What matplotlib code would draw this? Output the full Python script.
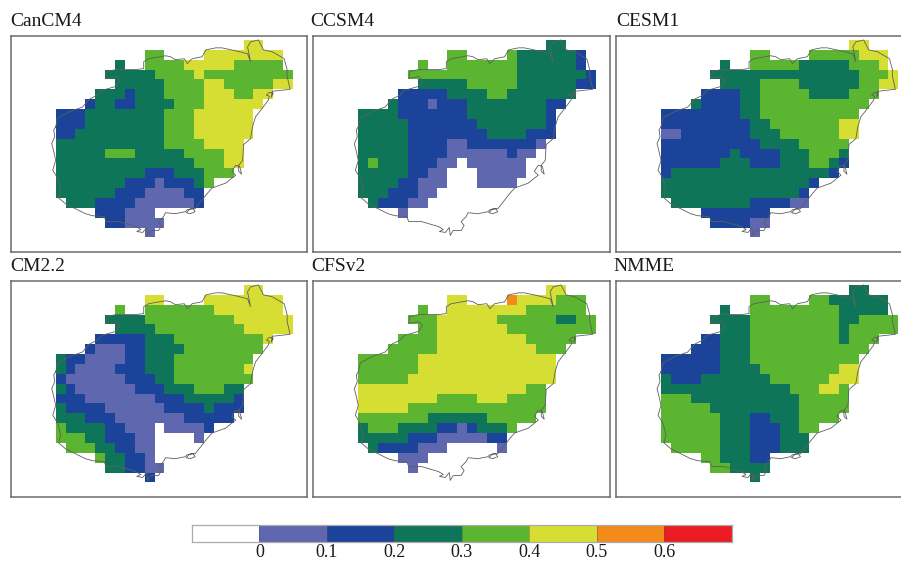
import numpy as np
import matplotlib
matplotlib.use("Agg")
import matplotlib.pyplot as plt
from matplotlib.colors import ListedColormap, BoundaryNorm

plt.rcParams['font.family'] = ['Liberation Serif', 'DejaVu Serif']

# ===========================
# DATA
# one string per grid row (north to south), one char per 0.1 deg column
# char = class: 0 -> 0-0.1, 1 -> 0.1-0.2 ... '.' -> nothing drawn
# ===========================
cancm4 = [
    "...................44...",
    ".........33....44444444.",
    "......2..33334444433333.",
    ".....2222233334333333333",
    "......222223333443333344",
    "....222122233334443344..",
    "...122112222333444444...",
    "11122222222333444444....",
    "11122222222333444444....",
    "11222222222333444444....",
    "2222222222233334444.....",
    "2222233322222333344.....",
    "2222222222222233344.....",
    "222222222111222333......",
    "2222222111011123........",
    "222222111000011.........",
    ".22211110000001.........",
    "....111000..............",
    ".....110000.............",
    ".........0..............",
]
ccsm4 = [
    "...................22...",
    ".........33....32222221.",
    "......3..33333332222221.",
    ".....3333333333322222221",
    "......222223333322222211",
    "....111112222332222222..",
    "...211101112222222211...",
    "22221111111222222221....",
    "22222111111122222221....",
    "22222111111112222111....",
    "2222211110011111110.....",
    "222221111000000100......",
    "2322211100.000000.......",
    "222221100...00000.......",
    "222211000...0000........",
    "22211100................",
    ".211100.................",
    "....0...................",
    "........................",
    "........................",
]
cesm1 = [
    "...................44...",
    ".........33....33333444.",
    "......2..33333222223334.",
    ".....2222222222222223334",
    "......222233332222223344",
    "....111122333332222333..",
    "...211112233333333333...",
    "11111111223333333333....",
    "11111111122333333344....",
    "00111111122233333344....",
    "1111111111222233333.....",
    "1111111211112223332.....",
    "1111112221112223321.....",
    "122222222222222221......",
    "2222222222222221........",
    "222222222222221.........",
    ".22222222111100.........",
    "....1111111.............",
    ".....111100.............",
    ".........0..............",
]
cm22 = [
    "...................44...",
    ".........44....44444444.",
    "......3..33333334444444.",
    ".....2222333333333444444",
    "......222233333333344444",
    "....111112223333333334..",
    "...100011222233333333...",
    "21100001122233333333....",
    "21000011122233333334....",
    "10000001112233333333....",
    "2100000011122233322.....",
    "1110000000111222221.....",
    "2111100000011112111.....",
    "222111000000011111......",
    "3222211000.00001........",
    "3332211100....0.........",
    ".333221100..............",
    "....322110..............",
    ".....221100.............",
    ".........1..............",
]
cfsv2 = [
    "...................44...",
    ".........44....54444333.",
    "......3..44444444333333.",
    ".....3334444443333332233",
    "......334444444333333333",
    "....333344444444433333..",
    "...333334444444444333...",
    "33333344444444444444....",
    "33333344444444444444....",
    "33333444444444444444....",
    "4444444444444444433.....",
    "4444444433334443333.....",
    "4444433333333333333.....",
    "333333322222233333......",
    "2333222211012223........",
    "222221110000011.........",
    ".21111000.....0.........",
    "....000.................",
    ".....0..................",
    "........................",
]
nmme = [
    "...................22...",
    ".........33....33222222.",
    "......2..33333333322222.",
    ".....2222333333333223333",
    "......222333333333233333",
    "....112223333333332333..",
    "...111222333333333333...",
    "11111122233333333333....",
    "11111122223333333344....",
    "21112222222333333444....",
    "2222222222222333443.....",
    "3332222222222233333.....",
    "3333322222222233333.....",
    "333333222112223333......",
    "3333332221112233........",
    "333333222111222.........",
    ".33333222111222.........",
    "....3322211.............",
    ".....332222.............",
    ".........2..............",
]

panel_names = ["CanCM4", "CCSM4", "CESM1", "CM2.2", "CFSv2", "NMME"]
panel_rows = [cancm4, ccsm4, cesm1, cm22, cfsv2, nmme]

coast_lon = [108.60, 108.58, 108.59, 108.56, 108.58, 108.60, 108.57, 108.62, 108.65, 108.63,
             108.70, 108.80, 108.90, 108.97, 109.09, 109.11, 109.24, 109.41, 109.46, 109.42,
             109.48, 109.52, 109.53, 109.56, 109.64, 109.67, 109.64, 109.69, 109.71, 109.81,
             109.91, 109.93, 109.99, 110.01, 109.96, 109.92, 109.96, 110.01, 110.05, 110.12,
             110.18, 110.32, 110.38, 110.42, 110.38, 110.42, 110.46, 110.48, 110.45, 110.45,
             110.49, 110.50, 110.57, 110.59, 110.62, 110.69, 110.75, 110.76, 110.73, 110.76,
             110.80, 110.78, 110.79, 110.97, 110.94,
             110.94, 110.91, 110.79, 110.70, 110.65, 110.57, 110.54, 110.57, 110.54, 110.42,
             110.28, 110.22, 110.12, 110.08, 109.98, 109.93, 109.90, 109.81, 109.76, 109.71,
             109.54, 109.49, 109.49, 109.41, 109.31, 109.21, 109.12, 109.11, 109.21, 109.25,
             109.21, 109.07, 109.02, 108.94, 108.87, 108.73, 108.62, 108.60]
coast_lat = [19.32, 19.29, 19.22, 19.15, 19.07, 18.98, 18.88, 18.80, 18.68, 18.60,
             18.54, 18.49, 18.44, 18.42, 18.41, 18.36, 18.36, 18.31, 18.28, 18.26,
             18.25, 18.30, 18.22, 18.27, 18.27, 18.32, 18.36, 18.41, 18.45, 18.44,
             18.46, 18.48, 18.49, 18.46, 18.44, 18.45, 18.49, 18.49, 18.54, 18.63,
             18.70, 18.75, 18.80, 18.83, 18.87, 18.93, 18.92, 18.84, 18.87, 18.93,
             18.98, 19.14, 19.20, 19.32, 19.42, 19.51, 19.59, 19.63, 19.64, 19.67,
             19.66, 19.62, 19.68, 19.70, 19.83,
             19.90, 20.01, 20.08, 20.10, 20.20, 20.18, 20.13, 19.98, 20.06, 20.09,
             20.12, 20.12, 20.10, 20.03, 20.01, 19.96, 20.01, 20.00, 20.03, 20.04,
             20.01, 19.98, 19.91, 19.90, 19.90, 19.90, 19.88, 19.81, 19.83, 19.79,
             19.73, 19.69, 19.64, 19.60, 19.52, 19.47, 19.41, 19.32]

levels = [-0.1, 0, 0.1, 0.2, 0.3, 0.4, 0.5, 0.6, 0.7]
level_colors = ["#ffffff", "#5f67ae", "#1a4399", "#0f7558", "#5bb530", "#d6de33", "#f38b1a", "#ec1c24"]
tick_values = [0, 0.1, 0.2, 0.3, 0.4, 0.5, 0.6]
tick_labels = ["0", "0.1", "0.2", "0.3", "0.4", "0.5", "0.6"]

lon_edges = 108.6 + 0.1 * np.arange(25)
lat_edges = 20.2 - 0.1 * np.arange(21)

cmap = ListedColormap(level_colors)
norm = BoundaryNorm(levels, cmap.N)

W, H = 901, 561
FRAME = "#6b6b6b"


def px_axes(fig, left, top, right, bottom):
    return fig.add_axes([left / W, 1 - bottom / H, (right - left) / W, (bottom - top) / H])


def rows_to_grid(rows):
    grid = np.full((20, 24), np.nan)
    for r, row in enumerate(rows):
        for c, ch in enumerate(row):
            if ch != ".":
                grid[r, c] = int(ch) * 0.1 + 0.05
    return grid


fig = plt.figure(figsize=(W / 100, H / 100), dpi=100)

lefts = [10.7, 313.3, 616.0]
tops = [36.0, 281.0]
title_shift = [0, -3, 0, 0, -1.7, -2.7]  # px, titles don't quite line up with the frames
for i, (name, rows) in enumerate(zip(panel_names, panel_rows)):
    left = lefts[i % 3]
    top = tops[i // 3]
    ax = px_axes(fig, left, top, left + 296.7, top + 215.7)
    ax.pcolormesh(lon_edges, lat_edges, rows_to_grid(rows), cmap=cmap, norm=norm)
    ax.plot(coast_lon, coast_lat, color="#5f5f5f", lw=0.6)
    ax.set_xlim(108.145, 111.145)
    ax.set_ylim(18.055, 20.24)
    ax.set_xticks([])
    ax.set_yticks([])
    for s in ax.spines.values():
        s.set_color(FRAME)
        s.set_linewidth(1.1)
    ax.set_title(name, loc="left", fontsize=14, pad=6.9, color="#1a1a1a", x=title_shift[i] / 296.7)

# --- colour bar ---
cax = px_axes(fig, 191.9, 525, 731.5, 541.5)
cax.pcolormesh(levels, [0, 1], np.array([[l + 0.05 for l in levels[:-1]]]), cmap=cmap, norm=norm)
cax.vlines(levels[1:-1], 0, 1, color="#555555", lw=0.5, alpha=0.6)
cax.set_yticks([])
cax.set_xticks(tick_values)
cax.set_xticklabels(tick_labels, fontsize=13, color="#1a1a1a")
cax.tick_params(axis="x", length=0, pad=1.8)
for s in cax.spines.values():
    s.set_color("#aaaaaa")
    s.set_linewidth(0.9)

plt.savefig("out.png", dpi=100)
plt.close()
